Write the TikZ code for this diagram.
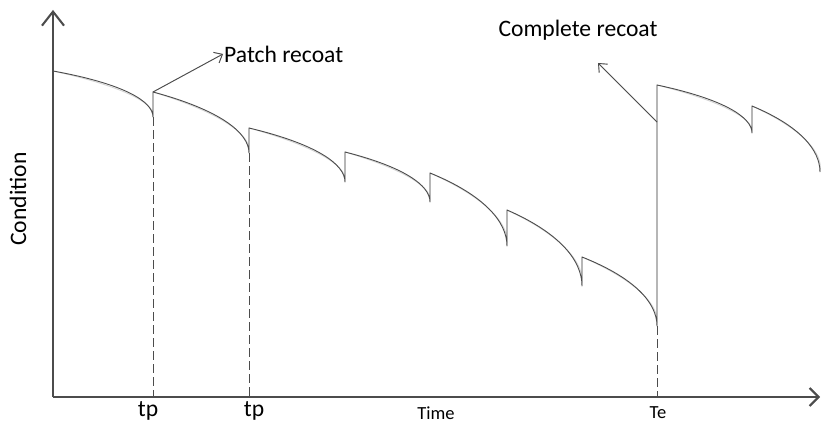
\documentclass[tikz,border=0pt]{standalone}
\usepackage{fontspec}
\setmainfont{Carlito}
\usetikzlibrary{arrows.meta}

% All paths of the sketch; drawn once as a soft offset shadow and once in ink.
\newcommand\conditionsketch{%
  % axes
  \draw[axisline, -{Straight Barb[length=14, width=22, line width=2]}] (o) -- (ytip);
  \draw[axisline, -{Straight Barb[length=9, width=18, line width=2]}] (o) -- (xtip);
  % deterioration curve with recoat jumps
  \draw[curveline]
    (s1) .. controls (125,84) and (153,101.7) .. (e1) -- (s2)
         .. controls (220,110) and (249,132.7) .. (e2) -- (s3)
         .. controls (316,144) and (345,164) .. (e3) -- (s4)
         .. controls (404,167) and (430,185.3) .. (e4) -- (s5)
         .. controls (484,195) and (507,221.7) .. (e5) -- (s6)
         .. controls (560,233) and (582,260.7) .. (e6) -- (s7)
         .. controls (635,278) and (657,303) .. (e7) -- (s8)
         .. controls (723,99) and (752,117) .. (e8) -- (s9)
         .. controls (800,126) and (820,150) .. (e9);
  % drop lines to the time axis
  \draw[dropline] (e1) -- (e1 |- o);
  \draw[dropline] (e2) -- (e2 |- o);
  \draw[dropline] (e7) -- (e7 |- o);
  % annotation arrows
  \draw[noteline] (s2) -- (pr.west);
  \draw[noteline] (crfoot) -- (crtip);
}

\begin{document}
\begin{tikzpicture}[x=1pt, y=-1pt,
  axisline/.style={ink, line width=2},
  curveline/.style={ink, line width=0.9, line join=round},
  dropline/.style={ink, line width=1, dash pattern=on 9pt off 4pt},
  noteline/.style={ink, line width=0.9, -{Straight Barb[length=7, width=12]}},
  label/.style={inner sep=1, font=\fontsize{23.6}{26}\selectfont},
  smalllabel/.style={inner sep=1, font=\fontsize{18.5}{21}\selectfont}]
  \useasboundingbox (0,0) rectangle (821,433);

  % axes
  \coordinate (o) at (53,397);
  \coordinate (ytip) at (53,10);
  \coordinate (xtip) at (820,397);
  % tops (s) and bottoms (e) of each decay segment
  \coordinate (s1) at (53,71);   \coordinate (e1) at (153,117);
  \coordinate (s2) at (153,92);  \coordinate (e2) at (249,153);
  \coordinate (s3) at (249,128); \coordinate (e3) at (345,182);
  \coordinate (s4) at (345,152); \coordinate (e4) at (430,202);
  \coordinate (s5) at (430,173); \coordinate (e5) at (507,246);
  \coordinate (s6) at (507,210); \coordinate (e6) at (582,286);
  \coordinate (s7) at (582,257); \coordinate (e7) at (657,326);
  \coordinate (s8) at (657,85);  \coordinate (e8) at (752,133);
  \coordinate (s9) at (752,106); \coordinate (e9) at (820,172);
  % complete recoat pointer
  \coordinate (crfoot) at (657,122);
  \coordinate (crtip) at (598,63);

  % labels
  \node[label, anchor=west] (pr) at (223,54) {Patch recoat};
  \node[label] (cr) at (578,30) {Complete recoat};
  \node[label, rotate=90] (cond) at (18,199) {Condition};
  \node[label] (tp1) at (148,411) {tp};
  \node[label] (tp2) at (254,411) {tp};
  \node[smalllabel] (time) at (436,413) {Time};
  \node[smalllabel] (te) at (658,413) {Te};

  % shadow
  \begin{scope}[shift={(3.5,3.5)}, ink/.style={draw=black!17}]
    \conditionsketch
  \end{scope}
  % ink
  \begin{scope}[ink/.style={draw=black!70}]
    \conditionsketch
  \end{scope}
\end{tikzpicture}
\end{document}
